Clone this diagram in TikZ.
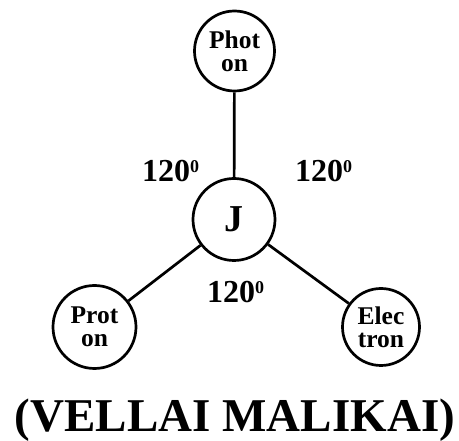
\documentclass[tikz,border=0pt]{standalone}
\usepackage{fontspec}
\setmainfont{Liberation Serif}
\begin{document}
\begin{tikzpicture}[x=1pt,y=-1pt,
  ball/.style={circle,draw,line width=2.7pt,inner sep=0pt,align=center,
    font=\bfseries\fontsize{25.5}{23}\selectfont},
  link/.style={line width=2.7pt},
  ang/.style={anchor=base west,inner sep=0pt,font=\bfseries\fontsize{32}{36}\selectfont}]
\useasboundingbox (0,0) rectangle (459,441);
\node[ball,minimum size=80pt] (ph) at (234.5,51) {Phot\\on};
\node[ball,minimum size=82pt,font=\bfseries\fontsize{38}{40}\selectfont] (j) at (234,219.5) {J};
\node[ball,minimum size=83pt] (pr) at (94.5,327) {Prot\\on};
\node[ball,minimum size=77pt] (el) at (381,327) {Elec\\tron};
\draw[link] (j) -- (ph);
\draw[link] (j) -- (pr);
\draw[link] (j) -- (el);
\node[ang] (a1) at (142,182) {120\textsuperscript{\fontsize{18}{18}\selectfont 0}};
\node[ang] (a2) at (295,182) {120\textsuperscript{\fontsize{18}{18}\selectfont 0}};
\node[ang] (a3) at (207,303) {120\textsuperscript{\fontsize{18}{18}\selectfont 0}};
\node[anchor=base,inner sep=0pt,font=\bfseries\fontsize{47}{50}\selectfont] (t) at (235,432) {(VELLAI MALIKAI)};
\end{tikzpicture}
\end{document}
